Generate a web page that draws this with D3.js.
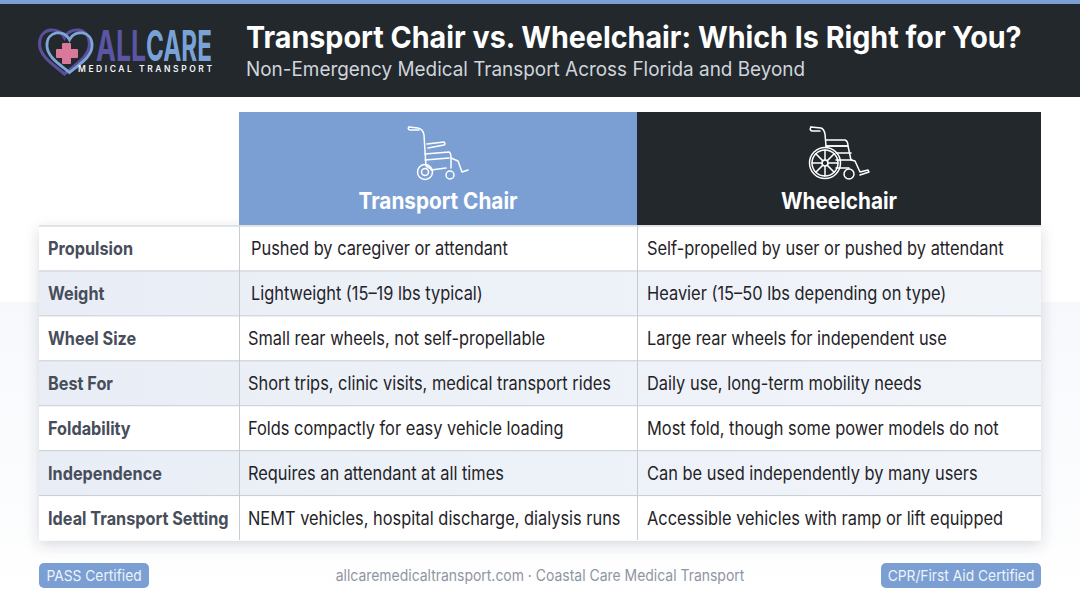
<!DOCTYPE html>
<html>
<head>
<meta charset="utf-8">
<script src="https://cdn.jsdelivr.net/npm/d3@7"></script>
<style>
html, body { margin: 0; padding: 0; background: #fff; overflow: hidden; }
text { font-family: Inter, "Noto Sans", sans-serif; }
</style>
</head>
<body>
<div id="root"></div>
<script>
var title = "Transport Chair vs. Wheelchair: Which Is Right for You?";
var subtitle = "Non-Emergency Medical Transport Across Florida and Beyond";
var columns = ["Transport Chair", "Wheelchair"];
var rowLabels = ["Propulsion", "Weight", "Wheel Size", "Best For", "Foldability", "Independence", "Ideal Transport Setting"];
var transportChair = [
    "Pushed by caregiver or attendant",
    "Lightweight (15\u201319 lbs typical)",
    "Small rear wheels, not self-propellable",
    "Short trips, clinic visits, medical transport rides",
    "Folds compactly for easy vehicle loading",
    "Requires an attendant at all times",
    "NEMT vehicles, hospital discharge, dialysis runs"
];
var wheelchair = [
    "Self-propelled by user or pushed by attendant",
    "Heavier (15\u201350 lbs depending on type)",
    "Large rear wheels for independent use",
    "Daily use, long-term mobility needs",
    "Most fold, though some power models do not",
    "Can be used independently by many users",
    "Accessible vehicles with ramp or lift equipped"
];
var footerLeft = "PASS Certified";
var footerMid = "allcaremedicaltransport.com \u00b7 Coastal Care Medical Transport";
var footerRight = "CPR/First Aid Certified";

var width = 1080, height = 603;
var blue = "#7b9fd3", dark = "#23282d", labelColor = "#474d5a", textColor = "#1f2328";

// the reference type is narrower than Inter, so squeeze each text to the measured width
function squeeze(sel, ratio) {
    sel.each(function () {
        var w = this.getComputedTextLength();
        d3.select(this).attr("textLength", w * ratio).attr("lengthAdjust", "spacingAndGlyphs");
    });
    return sel;
}

var svg = d3.select("#root").append("svg")
    .attr("width", width).attr("height", height)
    .style("display", "block");

var defs = svg.append("defs");
var bg = defs.append("linearGradient").attr("id", "bg").attr("x1", 0).attr("x2", 0).attr("y1", 0).attr("y2", 1);
bg.append("stop").attr("offset", "0").attr("stop-color", "#f6f8fc");
bg.append("stop").attr("offset", "1").attr("stop-color", "#ffffff");
var band = defs.append("linearGradient").attr("id", "band").attr("x1", 0).attr("x2", 1).attr("y1", 0).attr("y2", 0);
band.append("stop").attr("offset", "0").attr("stop-color", "#e9eef6");
band.append("stop").attr("offset", "1").attr("stop-color", "#f1f5fa");
var shadow = defs.append("filter").attr("id", "shadow")
    .attr("x", "-5%").attr("y", "-5%").attr("width", "110%").attr("height", "112%");
shadow.append("feDropShadow").attr("dx", 0).attr("dy", 4).attr("stdDeviation", 7)
    .attr("flood-color", "#3a4658").attr("flood-opacity", 0.2);

// page + header band
svg.append("rect").attr("y", 97).attr("width", width).attr("height", height - 97).attr("fill", "#fff");
svg.append("rect").attr("y", 302).attr("width", width).attr("height", 301).attr("fill", "url(#bg)");
svg.append("rect").attr("width", width).attr("height", 97).attr("fill", dark);
svg.append("rect").attr("width", width).attr("height", 4).attr("fill", blue);

squeeze(svg.append("text").attr("x", 246).attr("y", 48).attr("fill", "#fff")
    .attr("font-size", 30.5).attr("font-weight", 700).text(title), 0.94);
squeeze(svg.append("text").attr("x", 246).attr("y", 76).attr("fill", "#d0d5dc")
    .attr("font-size", 19.5).attr("font-weight", 400).text(subtitle), 0.97);

// logo
var logo = svg.append("g");
var heartPath = "M0,-11 C-5,-22 -24,-21 -24,-5 C-24,8 -9,16 0,24 C9,16 24,8 24,-5 C24,-21 5,-22 0,-11 Z";
logo.append("path").attr("d", heartPath).attr("transform", "translate(64.5,49) scale(1.04)")
    .attr("fill", "none").attr("stroke", "#5a4f9c").attr("stroke-width", 3);
logo.append("path").attr("d", heartPath).attr("transform", "translate(69.5,50) scale(0.94)")
    .attr("fill", "none").attr("stroke", "#7ea6d8").attr("stroke-width", 3);
logo.append("rect").attr("x", 62).attr("y", 43).attr("width", 9).attr("height", 21).attr("rx", 1).attr("fill", "#d9789b");
logo.append("rect").attr("x", 56).attr("y", 49).attr("width", 22).attr("height", 9).attr("rx", 1).attr("fill", "#d9789b");
logo.append("text").attr("x", 96).attr("y", 61).attr("font-size", 43).attr("font-weight", 700)
    .attr("font-family", "'Liberation Sans Narrow', Roboto, sans-serif").attr("fill", "#5b55a3")
    .attr("textLength", 50).attr("lengthAdjust", "spacingAndGlyphs").text("ALL");
logo.append("text").attr("x", 146).attr("y", 61).attr("font-size", 43).attr("font-weight", 700)
    .attr("font-family", "'Liberation Sans Narrow', Roboto, sans-serif").attr("fill", "#79a3d6")
    .attr("textLength", 66).attr("lengthAdjust", "spacingAndGlyphs").text("CARE");
logo.append("text").attr("x", 78).attr("y", 72).attr("font-size", 8.5).attr("font-weight", 600)
    .attr("fill", "#f1f3f6").attr("textLength", 134).text("MEDICAL TRANSPORT");

// table scales
var x = d3.scaleOrdinal().domain(["label"].concat(columns)).range([39, 239, 637]);
var right = 1041;
var y = d3.scaleBand().domain(rowLabels).range([226, 540.5]);
var colW = { "label": 200, "Transport Chair": 398, "Wheelchair": 404 };

svg.append("rect").attr("x", 39).attr("y", 226).attr("width", right - 39).attr("height", 314.5)
    .attr("rx", 3).attr("fill", "#fff").attr("filter", "url(#shadow)");

var rows = svg.selectAll("g.row").data(rowLabels).enter().append("g")
    .attr("class", "row")
    .attr("transform", function (d) { return "translate(0," + y(d) + ")"; });

rows.append("rect").attr("x", 39).attr("width", right - 39).attr("height", y.bandwidth())
    .attr("fill", function (d, i) { return i % 2 ? "url(#band)" : "#ffffff"; });
rows.append("line").attr("x1", 39).attr("x2", right).attr("y1", 0).attr("y2", 0)
    .attr("stroke", "#c7ccd3");
squeeze(rows.append("text").attr("x", 48).attr("y", y.bandwidth() / 2 + 7)
    .attr("font-size", 18.5).attr("font-weight", 700).attr("fill", labelColor)
    .text(function (d) { return d; }), 0.878);
squeeze(rows.append("text").attr("x", function (d, i) { return i < 2 ? 251 : 248; }).attr("y", y.bandwidth() / 2 + 7)
    .attr("font-size", 18.5).attr("fill", textColor)
    .text(function (d, i) { return transportChair[i]; }), 0.885);
squeeze(rows.append("text").attr("x", 647).attr("y", y.bandwidth() / 2 + 7)
    .attr("font-size", 18.5).attr("fill", textColor)
    .text(function (d, i) { return wheelchair[i]; }), 0.887);

// column dividers
svg.selectAll("line.divider").data(columns).enter().append("line")
    .attr("class", "divider")
    .attr("x1", function (d) { return x(d) + 0.5; }).attr("x2", function (d) { return x(d) + 0.5; })
    .attr("y1", 226).attr("y2", 540).attr("stroke", "#c7ccd3");

// column headers
var heads = svg.selectAll("g.head").data(columns).enter().append("g").attr("class", "head");
heads.append("rect").attr("x", function (d) { return x(d); }).attr("y", 112)
    .attr("width", function (d) { return colW[d]; }).attr("height", 113)
    .attr("fill", function (d, i) { return i ? dark : blue; });
squeeze(heads.append("text")
    .attr("x", function (d) { return x(d) + colW[d] / 2; }).attr("y", 209)
    .attr("text-anchor", "middle").attr("fill", "#fff")
    .attr("font-size", 22.5).attr("font-weight", 700).text(function (d) { return d; }), 0.922);

// transport chair icon
var ic1 = svg.append("g").attr("fill", "none").attr("stroke", "#fff").attr("stroke-width", 1.5)
    .attr("stroke-linecap", "round").attr("stroke-linejoin", "round");
ic1.append("path").attr("d", "M409,127 L418,128 Q423,129 424,135 L426,166 L431,169");
ic1.append("path").attr("d", "M409,127 Q407,129 410,130 L419,130");
ic1.append("path").attr("d", "M427,144 L444,142 Q446,144 444,145 L428,148");
ic1.append("path").attr("d", "M425,154 L449,152 Q451,153 451,158 L451,168");
ic1.append("path").attr("d", "M425,160 L449,158 M431,170 L446,168 M451,158 L458,161 L462,172 L468,170");
ic1.append("circle").attr("cx", 425).attr("cy", 172).attr("r", 7.5);
ic1.append("circle").attr("cx", 425).attr("cy", 172).attr("r", 3.5);
ic1.append("circle").attr("cx", 450).attr("cy", 175).attr("r", 4);

// wheelchair icon
var ic2 = svg.append("g").attr("fill", "none").attr("stroke", "#fff").attr("stroke-width", 1.5)
    .attr("stroke-linecap", "round").attr("stroke-linejoin", "round");
ic2.append("path").attr("d", "M811,127 L821,128 Q824,129 825,134 L826,146");
ic2.append("path").attr("d", "M811,127 Q809,130 812,131 L820,131");
ic2.append("path").attr("d", "M826,140 L845,140 Q848,141 848,146 L826,146");
ic2.append("path").attr("d", "M826,146 L848,146 L851,160 M836,153 L851,153 M836,160 L852,160 M836,168 L849,168");
ic2.append("path").attr("d", "M851,160 L855,161 L860,172 L868,170 L869,172 L860,175");
ic2.append("circle").attr("cx", 825).attr("cy", 163).attr("r", 15.5);
ic2.append("circle").attr("cx", 825).attr("cy", 163).attr("r", 13);
ic2.append("circle").attr("cx", 825).attr("cy", 163).attr("r", 3);
d3.range(8).forEach(function (k) {
    var a = k * Math.PI / 4;
    ic2.append("line")
        .attr("x1", 825 + 3 * Math.cos(a)).attr("y1", 163 + 3 * Math.sin(a))
        .attr("x2", 825 + 13 * Math.cos(a)).attr("y2", 163 + 13 * Math.sin(a));
});
ic2.append("circle").attr("cx", 849).attr("cy", 174).attr("r", 5);

// footer
function badge(text, x0, w) {
    svg.append("rect").attr("x", x0).attr("y", 563).attr("width", w).attr("height", 25)
        .attr("rx", 5).attr("fill", blue);
    squeeze(svg.append("text").attr("x", x0 + w / 2).attr("y", 581).attr("text-anchor", "middle")
        .attr("font-size", 15).attr("fill", "#eef3fa").text(text), 0.92);
}
badge(footerLeft, 39, 110);
badge(footerRight, 881, 160);
squeeze(svg.append("text").attr("x", 540).attr("y", 581).attr("text-anchor", "middle")
    .attr("font-size", 15.5).attr("fill", "#8f96a2").text(footerMid), 0.9);
</script>
</body>
</html>
